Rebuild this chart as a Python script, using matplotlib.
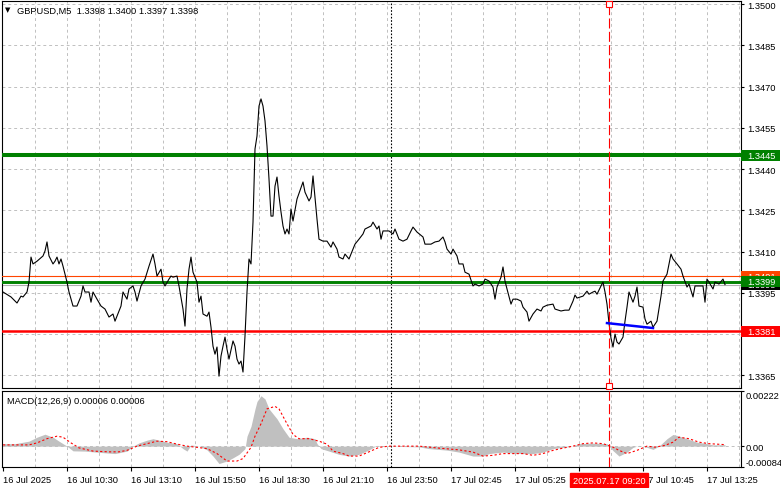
import matplotlib.pyplot as plt
import matplotlib.transforms as mtransforms
from matplotlib.patches import Rectangle

# GBPUSD M5 close (bar 0 = 16 Jul 07:50)
bars = [0, 4, 6, 7, 9, 10, 12, 13, 14, 15, 17, 20, 21, 22, 23, 25, 26, 27, 28, 29,
        30, 32, 33, 35, 37, 39, 40, 41, 43, 44, 45, 47, 49, 51, 53, 55, 56, 59, 60, 62,
        63, 65, 66, 67, 69, 71, 73, 75, 76, 77, 79, 80, 81, 83, 84, 85, 87, 88, 90, 91,
        92, 93, 94, 95, 97, 98, 99, 100, 102, 103, 104, 105, 106, 107, 108, 109, 110, 111, 112, 113,
        115, 116, 117, 118, 119, 120, 121, 122, 123, 124, 125, 126, 127, 128, 129, 130, 131, 132, 133, 134,
        135, 136, 137, 138, 139, 140, 141, 142, 143, 144, 145, 147, 150, 151, 153, 154, 155, 157, 158, 160,
        162, 164, 165, 167, 168, 170, 171, 173, 175, 176, 178, 180, 181, 184, 185, 187, 188, 189, 190, 193,
        195, 196, 198, 200, 202, 204, 205, 207, 210, 211, 214, 216, 218, 220, 221, 222, 224, 225, 227, 228,
        230, 231, 233, 235, 236, 238, 240, 241, 243, 245, 246, 247, 249, 250, 251, 252, 254, 255, 257, 259,
        260, 262, 263, 265, 267, 269, 270, 272, 275, 276, 279, 281, 283, 285, 286, 287, 290, 292, 293, 295,
        296, 297, 299, 300, 301, 302, 303, 304, 305, 306, 307, 308, 310, 311, 312, 313, 315, 316, 317, 318,
        320, 321, 322, 324, 325, 327, 329, 330, 332, 334, 335, 337, 339, 340, 342, 343, 345, 346, 348, 350,
        351, 352, 353, 355, 356, 358, 360, 361]
close = [1.33953, 1.33935, 1.33920, 1.33913, 1.33938, 1.33935, 1.33953, 1.33989, 1.34080, 1.34055,
         1.34065, 1.34084, 1.34102, 1.34135, 1.34084, 1.34055, 1.34065, 1.34080, 1.34055, 1.34073,
         1.34047, 1.33989, 1.33953, 1.33902, 1.33902, 1.33938, 1.33975, 1.33953, 1.33953, 1.33916,
         1.33953, 1.33927, 1.33902, 1.33891, 1.33862, 1.33873, 1.33847, 1.33902, 1.33953, 1.33927,
         1.33964, 1.33975, 1.33953, 1.33920, 1.33975, 1.34000, 1.34047, 1.34091, 1.34055, 1.34011,
         1.34036, 1.33989, 1.33975, 1.34000, 1.34011, 1.34007, 1.34011, 1.33975, 1.33891, 1.33829,
         1.33964, 1.34036, 1.34080, 1.34025, 1.33989, 1.33916, 1.33938, 1.33873, 1.33865, 1.33880,
         1.33825, 1.33756, 1.33727, 1.33753, 1.33647, 1.33720, 1.33756, 1.33789, 1.33745, 1.33709,
         1.33775, 1.33756, 1.33709, 1.33691, 1.33702, 1.33662, 1.33793, 1.33953, 1.34073, 1.34055,
         1.34207, 1.34473, 1.34520, 1.34629, 1.34655, 1.34629, 1.34575, 1.34484, 1.34364, 1.34229,
         1.34229, 1.34338, 1.34371, 1.34302, 1.34244, 1.34193, 1.34164, 1.34182, 1.34164, 1.34255,
         1.34211, 1.34291, 1.34353, 1.34316, 1.34284, 1.34298, 1.34375, 1.34218, 1.34145, 1.34138,
         1.34138, 1.34116, 1.34135, 1.34109, 1.34080, 1.34073, 1.34091, 1.34073, 1.34109, 1.34127,
         1.34145, 1.34164, 1.34182, 1.34193, 1.34207, 1.34182, 1.34193, 1.34145, 1.34175, 1.34175,
         1.34164, 1.34182, 1.34145, 1.34138, 1.34145, 1.34175, 1.34189, 1.34171, 1.34153, 1.34127,
         1.34127, 1.34135, 1.34138, 1.34153, 1.34135, 1.34109, 1.34091, 1.34109, 1.34084, 1.34055,
         1.34055, 1.34025, 1.34018, 1.33975, 1.33982, 1.33975, 1.33982, 1.34000, 1.33993, 1.33971,
         1.33927, 1.33971, 1.34007, 1.34044, 1.33993, 1.33964, 1.33909, 1.33927, 1.33927, 1.33920,
         1.33898, 1.33880, 1.33847, 1.33873, 1.33891, 1.33884, 1.33898, 1.33905, 1.33909, 1.33891,
         1.33884, 1.33887, 1.33887, 1.33920, 1.33942, 1.33931, 1.33938, 1.33956, 1.33945, 1.33953,
         1.33956, 1.33945, 1.33975, 1.33989, 1.33953, 1.33909, 1.33840, 1.33785, 1.33753, 1.33800,
         1.33771, 1.33764, 1.33789, 1.33847, 1.33898, 1.33953, 1.33916, 1.33938, 1.33971, 1.33902,
         1.33898, 1.33855, 1.33836, 1.33847, 1.33825, 1.33847, 1.33938, 1.33993, 1.34018, 1.34091,
         1.34073, 1.34055, 1.34036, 1.34011, 1.33971, 1.33982, 1.33935, 1.33975, 1.33975, 1.33975,
         1.33916, 1.34000, 1.33989, 1.33964, 1.33989, 1.33982, 1.34000, 1.33980]

# MACD(12,26,9): main as histogram, signal as dotted line
hist_bars = [0, 6, 13, 17, 21, 25, 28, 32, 35, 41, 48, 56, 62, 65, 68, 72, 75, 78, 82, 87,
             90, 92, 94, 98, 102, 105, 107, 108, 112, 115, 118, 121, 122, 124, 126, 127, 129, 131, 133, 137,
             140, 143, 147, 152, 156, 157, 159, 163, 168, 173, 178, 183, 187, 192, 208, 213, 222, 228, 235, 240,
             243, 250, 255, 260, 265, 270, 275, 280, 285, 288, 295, 302, 305, 308, 312, 315, 318, 322, 325, 328,
             332, 335, 337, 342, 347, 352, 355, 361]
hist_vals = [0.00010, 0.00010, 0.00020, 0.00036, 0.00048, 0.00036, 0.00020, 0.0, -0.00019, -0.00020,
             -0.00025, -0.00030, -0.00020, 0.0, 0.00013, 0.00024, 0.00030, 0.00024, 0.00016, 0.00010,
             -0.00010, -0.00020, 0.00005, 0.0, -0.00015, -0.00040, -0.00060, -0.00070, -0.00060, -0.00047,
             -0.00033, -0.00010, 0.00040, 0.00080, 0.00150, 0.00180, 0.00203, 0.00190, 0.00150, 0.00110,
             0.00070, 0.00036, 0.00030, 0.00036, 0.00030, 0.00010, -0.00010, -0.00020, -0.00033, -0.00040,
             -0.00033, -0.00015, 0.00003, 0.0, -0.00003, -0.00010, -0.00016, -0.00024, -0.00040, -0.00040,
             -0.00030, -0.00024, -0.00028, -0.00030, -0.00030, -0.00024, -0.00010, -0.00005, 0.0, 0.00010,
             0.00012, 0.00010, -0.00018, -0.00040, -0.00024, -0.00005, 0.00003, -0.00005, -0.00013, 0.0,
             0.00030, 0.00047, 0.00043, 0.00030, 0.00016, 0.00010, 0.00005, 0.00006]
sig_bars = [0, 13, 17, 22, 27, 30, 34, 38, 45, 53, 58, 62, 67, 72, 77, 82, 87, 92, 97, 102,
            107, 112, 117, 120, 124, 126, 129, 132, 136, 138, 142, 145, 148, 153, 158, 162, 165, 170, 173, 178,
            183, 188, 193, 208, 218, 228, 235, 240, 245, 250, 255, 260, 265, 270, 275, 280, 285, 290, 295, 300,
            305, 308, 312, 317, 322, 326, 331, 335, 338, 343, 348, 353, 361]
sig_vals = [0.00005, 0.00005, 0.00013, 0.00030, 0.00040, 0.00036, 0.00013, -0.00007, -0.00020, -0.00023,
            -0.00023, -0.00017, 0.0, 0.00010, 0.00020, 0.00018, 0.00008, 0.0, -0.00005, -0.00010,
            -0.00030, -0.00060, -0.00060, -0.00050, -0.00005, 0.00040, 0.00090, 0.00150, 0.00160, 0.00150,
            0.00090, 0.00047, 0.00030, 0.00030, 0.00020, 0.00008, -0.00020, -0.00030, -0.00040, -0.00040,
            -0.00023, -0.00005, 0.0, 0.0, -0.00008, -0.00015, -0.00024, -0.00040, -0.00037, -0.00030,
            -0.00030, -0.00030, -0.00037, -0.00030, -0.00017, -0.00008, 0.0, 0.00010, 0.00013, 0.00010,
            -0.00004, -0.00017, -0.00030, -0.00017, 0.0, -0.00004, 0.00003, 0.00016, 0.00036, 0.00030,
            0.00016, 0.00010, 0.00006]

price_ticks = [1.3500, 1.3485, 1.3470, 1.3455, 1.3440, 1.3425, 1.3410, 1.3395, 1.3380, 1.3365]
# 1.3380 sits under the 1.3381 level box in the terminal, so its label is not shown
price_labels = ['1.3500', '1.3485', '1.3470', '1.3455', '1.3440', '1.3425', '1.3410', '1.3395', '', '1.3365']
time_ticks = [0, 32, 64, 96, 128, 160, 192, 224, 256, 288, 320, 352]
time_labels = ['16 Jul 2025', '16 Jul 10:30', '16 Jul 13:10', '16 Jul 15:50', '16 Jul 18:30',
               '16 Jul 21:10', '16 Jul 23:50', '17 Jul 02:45', '17 Jul 05:25', '17 Jul 08:05',
               '17 Jul 10:45', '17 Jul 13:25']
macd_ticks = [-0.00084, 0.0, 0.00222]
macd_labels = ['-0.00084', '0.00', '0.00222']

levels = [1.3445, 1.3401, 1.3399, 1.3381]
level_colors = ['#008000', '#ff4500', '#008000', '#ff0000']
level_widths = [2.9, 0.8, 2.1, 1.8]
bid = 1.3398
trend_bars = [302, 325]
trend_prices = [1.33840, 1.33822]
cursor_bar = 303
cursor_text = '2025.07.17 09:20'
day_sep = 194

plt.rcParams['font.family'] = ['Liberation Sans', 'DejaVu Sans']
fs = 6.7
grid_kw = dict(color='#c0c0c0', lw=0.7, ls=(0, (3, 3)), zorder=0)

fig = plt.figure(figsize=(7.81, 4.89), dpi=100)
ax = fig.add_axes([2 / 781, 1 - 389 / 489, 739 / 781, 387 / 489])
ax2 = fig.add_axes([2 / 781, 1 - 468 / 489, 739 / 781, 76 / 489])

for a in (ax, ax2):
    a.set_xlim(-0.5, 369)
    for b in range(16, 369, 16):
        a.axvline(b, **grid_kw)
    for s in a.spines.values():
        s.set_linewidth(0.8)
        s.set_color('black')
    a.axvline(day_sep, color='black', lw=0.8, ls=(0, (1.5, 1.5)), zorder=1)
    a.axvline(cursor_bar, color='red', lw=0.8, ls=(0, (9, 3)), zorder=6)
    a.yaxis.tick_right()
    a.tick_params(axis='y', length=2.5, width=0.8, pad=2, labelsize=fs, colors='black')

# main price panel
ax.set_ylim(1.33604, 1.35011)
for p in price_ticks:
    ax.axhline(p, **grid_kw)
ax.set_yticks(price_ticks)
ax.set_yticklabels(price_labels)
ax.set_xticks([])

ax.axhline(bid, color='#b0b0b0', lw=0.8, zorder=2)
for lv, c, w in zip(levels, level_colors, level_widths):
    ax.axhline(lv, color=c, lw=w, zorder=3)
ax.plot(bars, close, color='black', lw=0.8, zorder=4)
ax.plot(trend_bars, trend_prices, color='#0000ff', lw=1.8, zorder=5)

# level price boxes on the right axis, later ones drawn on top
tr = mtransforms.blended_transform_factory(ax.transAxes, ax.transData)
box_w = 39 / 739
box_h = 0.00041
boxes = [(bid, 'black'), (levels[3], level_colors[3]), (levels[1], level_colors[1]),
         (levels[2], level_colors[2]), (levels[0], level_colors[0])]
for i, (lv, c) in enumerate(boxes):
    ax.add_patch(Rectangle((1.0, lv - box_h / 2), box_w, box_h, transform=tr,
                           facecolor=c, edgecolor='none', clip_on=False, zorder=10 + 2 * i))
    ax.text(1 + 6 / 739, lv, f'{lv:.4f}', transform=tr, color='white', fontsize=fs,
            va='center', ha='left', clip_on=False, zorder=11 + 2 * i)

# cursor markers at top and bottom of the price panel
trx = mtransforms.blended_transform_factory(ax.transData, ax.transAxes)
ax.plot([cursor_bar, cursor_bar], [0.992, 0.006], transform=trx, ls='none', marker='s',
        ms=4, mfc='white', mec='red', mew=0.8, clip_on=False, zorder=7)

fig.text(8 / 781, 1 - 10.5 / 489, '\u25bc', fontsize=5, ha='center', va='center',
         family='DejaVu Sans')
fig.text(17 / 781, 1 - 11 / 489, 'GBPUSD,M5  1.3398 1.3400 1.3397 1.3398', fontsize=fs,
         ha='left', va='center')

# MACD panel
ax2.set_ylim(-0.00084, 0.00222)
ax2.axhline(0, **grid_kw)
ax2.fill_between(hist_bars, 0, hist_vals, color='#c0c0c0', lw=0, zorder=2)
ax2.plot(sig_bars, sig_vals, color='red', lw=0.8, ls=(0, (2, 2)), zorder=3)
ax2.set_yticks(macd_ticks)
ax2.set_yticklabels(macd_labels)
ax2.tick_params(axis='y', pad=0.5)
ylabels = ax2.get_yticklabels()
ylabels[0].set_verticalalignment('bottom')
ylabels[2].set_verticalalignment('top')
ax2.text(5 / 739, 0.87, 'MACD(12,26,9) 0.00006 0.00006', transform=ax2.transAxes,
         fontsize=fs, ha='left', va='center')

ax2.set_xticks(time_ticks)
ax2.set_xticklabels(time_labels, ha='left')
ax2.tick_params(axis='x', length=3, width=0.8, pad=3, labelsize=fs)

ax2.annotate(cursor_text, xy=(cursor_bar, 0), xycoords=('data', 'axes fraction'),
             xytext=(0, -9.5), textcoords='offset points', ha='center', va='center',
             color='white', fontsize=fs, annotation_clip=False, zorder=20,
             bbox=dict(boxstyle='square,pad=0.3', fc='red', ec='red'))

fig.savefig('out.png', dpi=100)
